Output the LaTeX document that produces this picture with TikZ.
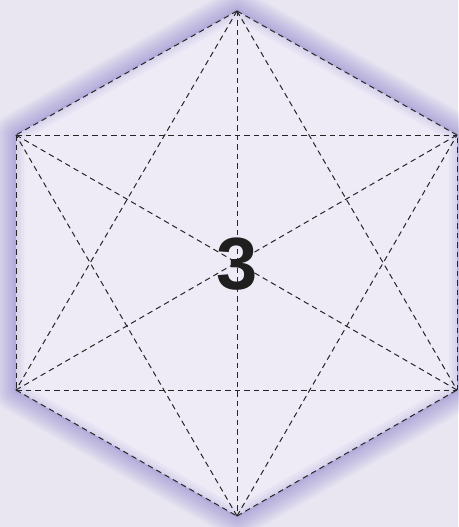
\documentclass[tikz,border=0pt]{standalone}
\usepackage{fontspec}
\setmainfont{Liberation Sans}
\definecolor{bgcol}{RGB}{233,230,242}
\definecolor{incol}{RGB}{238,235,246}
\definecolor{glowcol}{RGB}{110,95,190}
\tikzset{
  diag/.style={draw=black!85, line width=1pt, dash pattern=on 5.5pt off 4pt},
  glowline/.style={draw=glowcol, line join=round, draw opacity=0.045}
}
\begin{document}
\begin{tikzpicture}[x=1pt,y=-1pt]
\useasboundingbox (0,0) rectangle (458,527);
\fill[bgcol] (0,0) rectangle (458,527);
\coordinate (T) at (237,11);
\coordinate (UL) at (16,135);
\coordinate (LL) at (16,390);
\coordinate (B) at (237,516);
\coordinate (LR) at (457,390);
\coordinate (UR) at (457,135);
\foreach \w in {44,40,36,32,28,24,20,16,12,8,5,3}{
  \draw[glowline, line width=\w pt] (T) -- (UL) -- (LL) -- (B) -- (LR) -- (UR) -- cycle;
}
\fill[incol] (T) -- (UL) -- (LL) -- (B) -- (LR) -- (UR) -- cycle;
\begin{scope}
\clip (T) -- (UL) -- (LL) -- (B) -- (LR) -- (UR) -- cycle;
\foreach \w in {16,10,5}{
  \draw[glowline, draw opacity=0.05, line width=\w pt] (T) -- (UL) -- (LL) -- (B) -- (LR) -- (UR) -- cycle;
}
\end{scope}
% edges
\draw[diag] (T) -- (UL);
\draw[diag] (UL) -- (LL);
\draw[diag] (LL) -- (B);
\draw[diag] (B) -- (LR);
\draw[diag] (LR) -- (UR);
\draw[diag] (UR) -- (T);
% diagonals
\draw[diag] (T) -- (B);
\draw[diag] (UL) -- (UR);
\draw[diag] (LL) -- (LR);
\draw[diag] (T) -- (LL);
\draw[diag] (T) -- (LR);
\draw[diag] (B) -- (UL);
\draw[diag] (B) -- (UR);
\draw[diag] (UL) -- (LR);
\draw[diag] (LL) -- (UR);
\node[font=\fontsize{74}{74}\selectfont\bfseries, text=black!88, inner sep=0pt] (num) at (237,264) {3};
\end{tikzpicture}
\end{document}
